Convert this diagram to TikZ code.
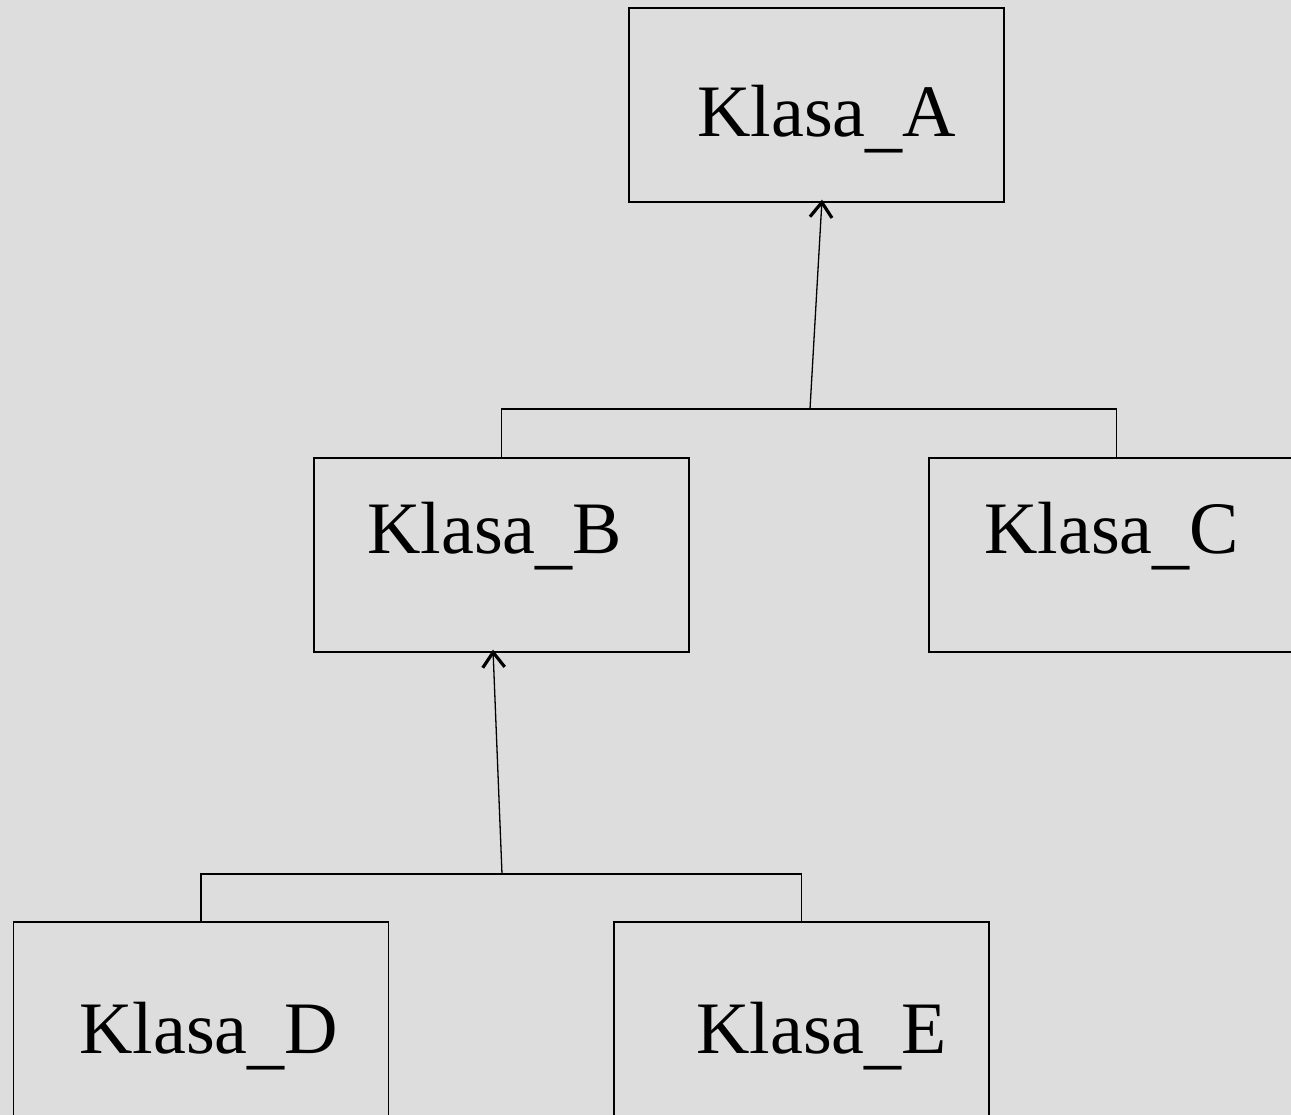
\documentclass[tikz,border=0pt]{standalone}
\usepackage{fontspec}
\setmainfont{Liberation Serif}
\usetikzlibrary{arrows.meta}
\definecolor{bg}{RGB}{221,221,221}
\newcommand{\lowus}{\raisebox{-7pt}{\_}}
\begin{document}
\begin{tikzpicture}[x=1pt,y=-1pt,
  klasa/.style={draw=black, line width=1.3pt, rectangle, minimum width=375pt, minimum height=194pt, inner sep=0pt, anchor=center},
  label/.style={anchor=base west, inner sep=0pt, font=\fontsize{74}{80}\selectfont},
  conn/.style={line width=1.3pt},
  inh/.style={line width=1.3pt, -{Straight Barb[length=15pt,width=22pt,line width=3.2pt]}}]
\fill[bg] (0,0) rectangle (1291,1115);
\useasboundingbox (0,0) rectangle (1291,1115);
\node[klasa] (a) at (816.5,105) {};
\node[klasa] (b) at (501.5,555) {};
\node[klasa] (c) at (1116.5,555) {};
\node[klasa] (d) at (201,1019) {};
\node[klasa] (e) at (801.5,1019) {};
\node[label] (ta) at (697,137) {Klasa\lowus A};
\node[label] (tb) at (367,553) {Klasa\lowus B};
\node[label] (tc) at (984,553) {Klasa\lowus C};
\node[label] (td) at (79,1053) {Klasa\lowus D};
\node[label] (te) at (696,1053) {Klasa\lowus E};
\coordinate (hbc) at (810,409);
\coordinate (hde) at (502,874);
\draw[conn] (b.north) |- (hbc) -| (c.north);
\draw[inh] (hbc) -- ([xshift=5.5pt,yshift=3pt]a.south);
\draw[conn] (d.north) |- (hde) -| (e.north);
\draw[inh] (hde) -- ([xshift=-8.5pt,yshift=3pt]b.south);
\end{tikzpicture}
\end{document}
